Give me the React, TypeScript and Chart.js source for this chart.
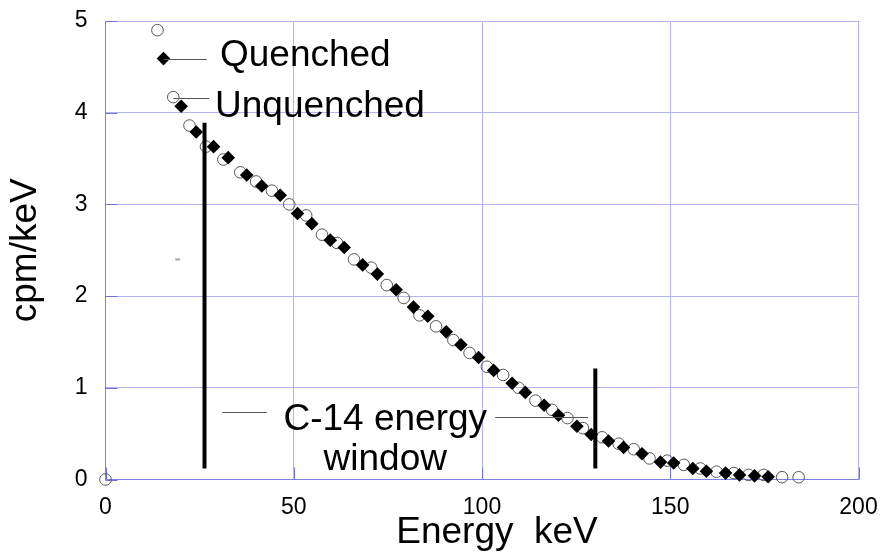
import React, { useEffect, useRef } from 'react';
import { Chart, registerables } from 'chart.js';

Chart.register(...registerables);

// ---- data ----
const xTicks = [0, 50, 100, 150, 200];
const yTicks = [0, 1, 2, 3, 4, 5];

const unquenchedEnergy = [0, 13.8, 18.0, 22.3, 26.7, 31.3, 35.8, 40.0, 44.2, 48.8, 53.3, 57.5, 61.5, 66.0, 70.6, 74.7, 79.2, 83.4, 87.8, 92.4, 96.7, 101.3, 105.6, 109.7, 114.2, 118.6, 122.7, 126.8, 131.9, 136.3, 140.3, 144.5, 149.2, 153.6, 158.0, 162.3, 166.9, 170.8, 174.8, 179.7, 184.1];
const unquenchedCpm = [0, 4.9, 4.17, 3.86, 3.63, 3.49, 3.35, 3.25, 3.15, 3.0, 2.88, 2.67, 2.58, 2.4, 2.31, 2.12, 1.98, 1.79, 1.67, 1.52, 1.38, 1.23, 1.14, 1.0, 0.86, 0.76, 0.67, 0.56, 0.46, 0.39, 0.33, 0.23, 0.205, 0.16, 0.12, 0.085, 0.07, 0.05, 0.05, 0.025, 0.025];

const quenchedEnergy = [15.4, 20.1, 24.1, 28.7, 32.6, 37.5, 41.5, 46.4, 51.0, 54.8, 59.7, 63.4, 68.3, 72.2, 77.2, 81.8, 85.6, 90.5, 94.4, 99.1, 103.1, 108.0, 111.5, 116.5, 120.3, 125.2, 129.0, 133.6, 137.6, 142.5, 147.4, 150.9, 156.0, 159.6, 164.7, 168.4, 172.4, 176.0];
const quenchedCpm = [4.59, 4.07, 3.79, 3.63, 3.51, 3.32, 3.2, 3.1, 2.9, 2.79, 2.61, 2.53, 2.34, 2.24, 2.07, 1.88, 1.78, 1.61, 1.47, 1.33, 1.19, 1.05, 0.95, 0.81, 0.7, 0.58, 0.49, 0.42, 0.35, 0.28, 0.19, 0.18, 0.12, 0.09, 0.07, 0.05, 0.04, 0.03];

// C-14 energy window limits
const windowEnergy = [26.3, 130.1];
const windowTop = [3.89, 1.21];
const windowBottom = 0.12;

const FONT = '"Liberation Sans", Arial, sans-serif';

const overlay = {
  id: 'overlay',
  beforeDatasetsDraw(chart: any) {
    const { ctx, chartArea: a, scales } = chart;
    const x = scales.x;
    const y = scales.y;
    ctx.save();
    ctx.strokeStyle = '#7070dc';
    ctx.lineWidth = 1;
    ctx.beginPath();
    for (const v of xTicks) {
      const px = Math.round(x.getPixelForValue(v)) + 0.5;
      ctx.moveTo(px, a.bottom);
      ctx.lineTo(px, a.bottom - 12);
    }
    for (const v of yTicks) {
      const py = Math.round(y.getPixelForValue(v)) + 0.5;
      ctx.moveTo(a.left, py);
      ctx.lineTo(a.left + 12, py);
    }
    ctx.stroke();
    ctx.restore();
  },
  afterDatasetsDraw(chart: any) {
    const { ctx, chartArea: a, scales } = chart;
    const x = scales.x;
    const y = scales.y;
    const P = (ex: number, cy: number) => [x.getPixelForValue(ex), y.getPixelForValue(cy)];
    ctx.save();
    // leader lines
    ctx.strokeStyle = '#555555';
    ctx.lineWidth = 1;
    const seg = (x1: number, y1: number, x2: number, y2: number) => {
      const [ax, ay] = P(x1, y1);
      const [bx, by] = P(x2, y2);
      ctx.beginPath();
      ctx.moveTo(ax, Math.round(ay) + 0.5);
      ctx.lineTo(bx, Math.round(by) + 0.5);
      ctx.stroke();
    };
    seg(quenchedEnergy[0], quenchedCpm[0], 26.9, quenchedCpm[0]);
    seg(unquenchedEnergy[2], 4.16, 27.5, 4.16);
    seg(31.0, 0.733, 42.9, 0.733);
    seg(103.5, 0.685, 128.2, 0.685);
    // small stray dash
    ctx.strokeStyle = '#a8a8a8';
    ctx.lineWidth = 2;
    const [d1x, d1y] = P(18.5, 2.4);
    const [d2x] = P(19.8, 2.4);
    ctx.beginPath();
    ctx.moveTo(d1x, d1y);
    ctx.lineTo(d2x, d1y);
    ctx.stroke();

    // annotation text
    ctx.fillStyle = '#000000';
    ctx.font = `37px ${FONT}`;
    ctx.textBaseline = 'alphabetic';
    ctx.textAlign = 'left';
    let [tx, ty] = P(30.4, 4.51);
    ctx.fillText('Quenched', tx, ty);
    [tx, ty] = P(29.1, 3.95);
    ctx.fillText('Unquenched', tx, ty);
    ctx.textAlign = 'center';
    [tx, ty] = P(74.3, 0.54);
    ctx.fillText('C-14 energy', tx, ty);
    [tx, ty] = P(74.3, 0.104);
    ctx.fillText('window', tx, ty);

    // x axis title
    ctx.font = `37px ${FONT}`;
    ctx.textAlign = 'center';
    ctx.fillText('Energy  keV', (a.left + a.right) / 2 + 15, 543);
    ctx.restore();
  },
};

export default function App() {
  const ref = useRef<HTMLCanvasElement | null>(null);
  useEffect(() => {
    document.body.style.margin = '0';
    document.body.style.background = '#ffffff';
    if (!ref.current) return;
    const unq = unquenchedEnergy.map((e, i) => ({ x: e, y: unquenchedCpm[i] }));
    const q = quenchedEnergy.map((e, i) => ({ x: e, y: quenchedCpm[i] }));
    const windows = windowEnergy.map((e, i) => ({
      type: 'line' as const,
      label: 'window' + i,
      data: [{ x: e, y: windowBottom }, { x: e, y: windowTop[i] }],
      showLine: true,
      borderColor: '#000000',
      borderWidth: 4,
      pointRadius: 0,
      order: -1,
    }));
    const chart = new Chart(ref.current, {
      type: 'scatter',
      data: {
        datasets: [
          {
            label: 'Quenched',
            data: q,
            pointStyle: 'rectRot',
            pointRadius: 6.8,
            backgroundColor: '#000000',
            borderColor: '#000000',
            borderWidth: 0,
            order: 0,
            clip: false,
          },
          {
            label: 'Unquenched',
            data: unq,
            pointStyle: 'circle',
            pointRadius: 5.8,
            backgroundColor: 'rgba(255,255,255,0)',
            borderColor: '#555555',
            borderWidth: 1,
            order: 1,
            clip: false,
          },
          ...windows,
        ] as any,
      },
      options: {
        animation: false,
        responsive: false,
        devicePixelRatio: 1,
        layout: { autoPadding: false, padding: { top: 21, right: 24.5, bottom: 0, left: 0 } },
        plugins: { legend: { display: false }, tooltip: { enabled: false } },
        scales: {
          x: {
            type: 'linear',
            min: 0,
            max: 200,
            afterFit: (s: any) => { s.height = 73.5; },
            afterBuildTicks: (s: any) => { s.ticks = xTicks.map((v) => ({ value: v })); },
            ticks: { color: '#000000', font: { family: FONT, size: 23 }, padding: 0, maxRotation: 0 },
            grid: { color: '#b4b4f2', lineWidth: 1, drawTicks: true, tickLength: 14.5, tickColor: 'rgba(0,0,0,0)' },
            border: { color: '#8080e0', width: 1 },
            title: { display: false },
          },
          y: {
            type: 'linear',
            min: 0,
            max: 5,
            afterFit: (s: any) => { s.width = 105.5; },
            afterBuildTicks: (s: any) => { s.ticks = yTicks.map((v) => ({ value: v })); },
            ticks: { color: '#000000', font: { family: FONT, size: 23 }, padding: 0 },
            grid: { color: '#b4b4f2', lineWidth: 1, drawTicks: true, tickLength: 18, tickColor: 'rgba(0,0,0,0)' },
            border: { color: '#8080e0', width: 1 },
            title: {
              display: true,
              text: 'cpm/keV',
              color: '#000000',
              font: { family: FONT, size: 37 },
              padding: { top: 4, bottom: 0 },
            },
          },
        },
      } as any,
      plugins: [overlay],
    });
    return () => chart.destroy();
  }, []);
  return (
    <div style={{ width: 883, height: 553, background: '#ffffff' }}>
      <canvas ref={ref} width={883} height={553} style={{ display: 'block' }} />
    </div>
  );
}
